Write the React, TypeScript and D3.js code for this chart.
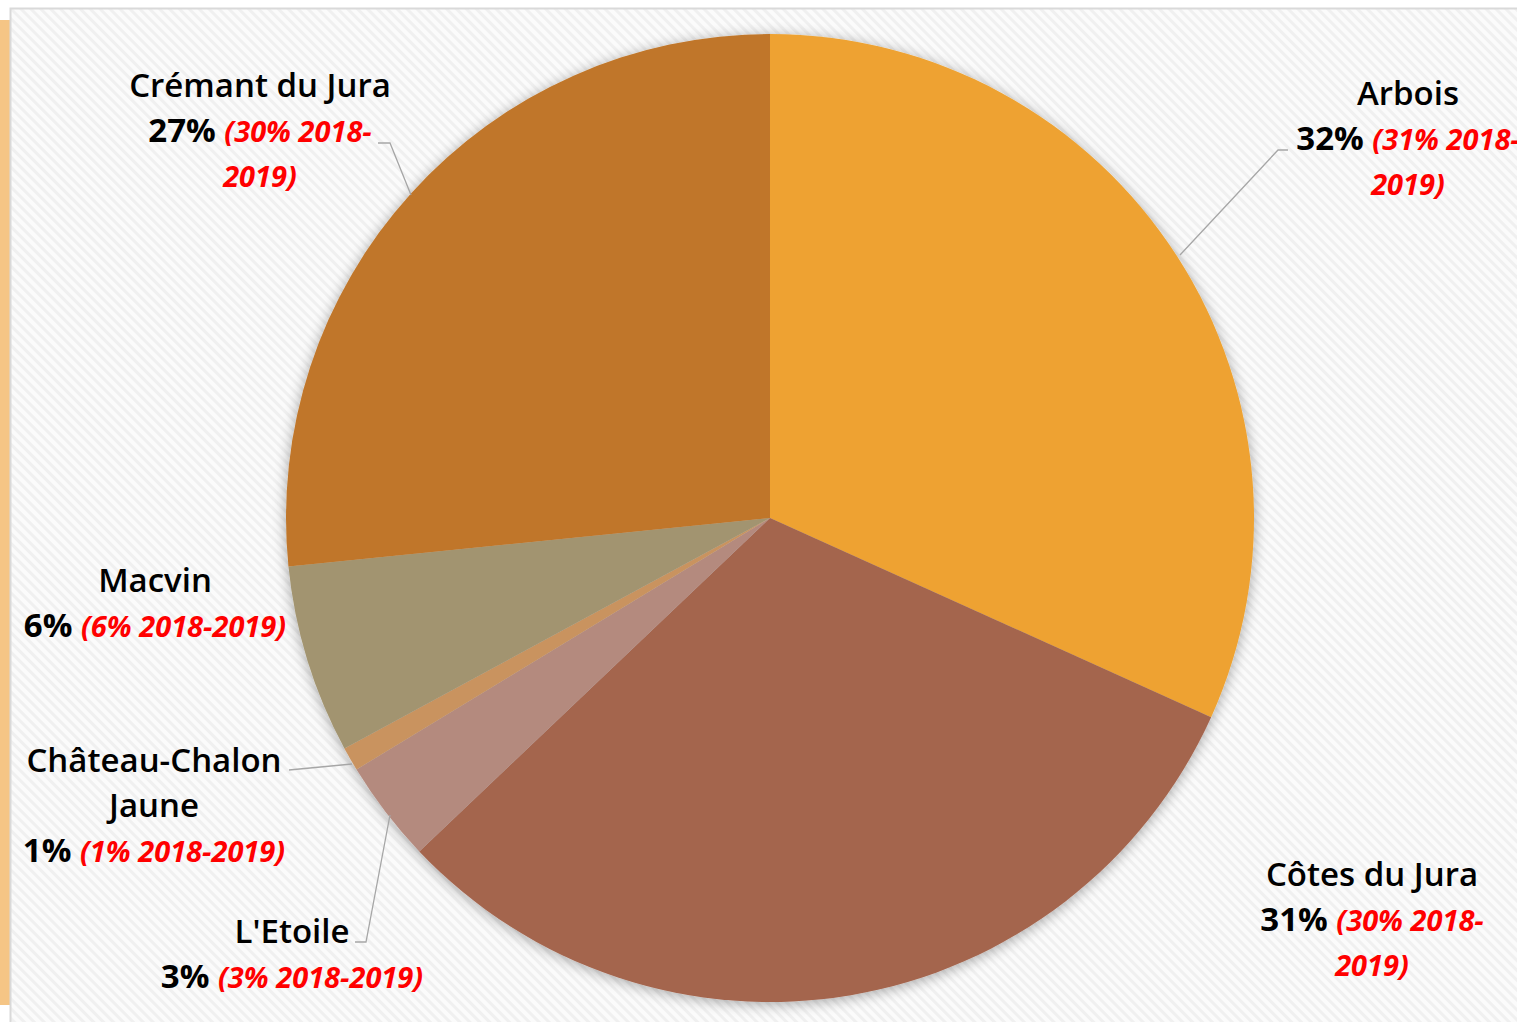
import React, { useEffect } from "react";
import * as d3 from "d3";

const categories = ["Arbois", "Côtes du Jura", "L'Etoile", "Château-Chalon Jaune", "Macvin", "Crémant du Jura"];
const shares = [31.75, 31.15, 3.4, 0.8, 6.3, 26.6];
const shareLabels = ["32%", "31%", "3%", "1%", "6%", "27%"];
const prevLabels = ["(31% 2018-2019)", "(30% 2018-2019)", "(3% 2018-2019)", "(1% 2018-2019)", "(6% 2018-2019)", "(30% 2018-2019)"];
const colors = ["#EEA230", "#A4654E", "#B48A7E", "#C9935F", "#A29470", "#C07629"];

const W = 1517;
const H = 1022;
const CX = 770;
const CY = 518;
const R = 484;
const FONT = "'Open Sans', Lato, sans-serif";

type Line = { parts: { t: string; red?: boolean; bold?: boolean }[] };
type LabelSpec = { x: number; y: number; lines: Line[]; leader?: [number, number][] };

function buildLabels(): LabelSpec[] {
  const split = (s: string) => {
    const i = s.indexOf("2019)");
    return [s.slice(0, i), s.slice(i)];
  };
  const [a1, a2] = split(prevLabels[0]);
  const [c1, c2] = split(prevLabels[1]);
  const [k1, k2] = split(prevLabels[5]);
  return [
    {
      x: 1408, y: 105,
      lines: [
        { parts: [{ t: "Arbois" }] },
        { parts: [{ t: shareLabels[0] + " ", bold: true }, { t: a1, red: true }] },
        { parts: [{ t: a2, red: true }] },
      ],
      leader: [[1288, 150], [1278, 150], [1180, 255]],
    },
    {
      x: 1372, y: 886,
      lines: [
        { parts: [{ t: "Côtes du Jura" }] },
        { parts: [{ t: shareLabels[1] + " ", bold: true }, { t: c1, red: true }] },
        { parts: [{ t: c2, red: true }] },
      ],
    },
    {
      x: 292, y: 943,
      lines: [
        { parts: [{ t: "L'Etoile" }] },
        { parts: [{ t: shareLabels[2] + " ", bold: true }, { t: prevLabels[2], red: true }] },
      ],
      leader: [[355, 942], [366, 942], [390, 815]],
    },
    {
      x: 154, y: 772,
      lines: [
        { parts: [{ t: "Château-Chalon" }] },
        { parts: [{ t: "Jaune" }] },
        { parts: [{ t: shareLabels[3] + " ", bold: true }, { t: prevLabels[3], red: true }] },
      ],
      leader: [[289, 770], [352, 764]],
    },
    {
      x: 155, y: 592,
      lines: [
        { parts: [{ t: "Macvin" }] },
        { parts: [{ t: shareLabels[4] + " ", bold: true }, { t: prevLabels[4], red: true }] },
      ],
    },
    {
      x: 260, y: 97,
      lines: [
        { parts: [{ t: "Crémant du Jura" }] },
        { parts: [{ t: shareLabels[5] + " ", bold: true }, { t: k1, red: true }] },
        { parts: [{ t: k2, red: true }] },
      ],
      leader: [[378, 143], [390, 143], [411, 195]],
    },
  ];
}

export default function App() {
  useEffect(() => {
    document.body.style.margin = "0";
  }, []);

  const pie = d3.pie<number>().sort(null).startAngle(0).endAngle(2 * Math.PI).value((d) => d);
  const arcs = pie(shares);
  const arc = d3.arc<d3.PieArcDatum<number>>().innerRadius(0).outerRadius(R);
  const labels = buildLabels();
  const lineGen = d3.line();

  return (
    <svg width={W} height={H} style={{ display: "block" }}>
      <defs>
        <pattern id="stripes" width="7" height="7" patternUnits="userSpaceOnUse" patternTransform="rotate(-45)">
          <rect width="7" height="7" fill="#fbfbfb" />
          <rect width="3" height="7" fill="#f0f0f0" />
        </pattern>
        <filter id="shadow" x="-10%" y="-10%" width="120%" height="120%">
          <feGaussianBlur in="SourceAlpha" stdDeviation="7" />
          <feOffset dx="0" dy="2" result="b" />
          <feComponentTransfer>
            <feFuncA type="linear" slope="0.35" />
          </feComponentTransfer>
          <feMerge>
            <feMergeNode />
            <feMergeNode in="SourceGraphic" />
          </feMerge>
        </filter>
      </defs>
      <rect x={0} y={0} width={W} height={H} fill="#ffffff" />
      <rect x={0} y={20} width={10} height={985} fill="#F5C585" />
      <rect x={10.5} y={8.5} width={W} height={H} fill="url(#stripes)" stroke="#d9d9d9" strokeWidth={2} />
      <g transform={`translate(${CX},${CY})`} filter="url(#shadow)">
        {arcs.map((a, i) => (
          <path key={categories[i]} d={arc(a) || ""} fill={colors[i]} />
        ))}
      </g>
      {labels.map((l, i) =>
        l.leader ? (
          <path key={"ld" + i} d={lineGen(l.leader) || ""} fill="none" stroke="#a6a6a6" strokeWidth={1.3} />
        ) : null
      )}
      {labels.map((l, i) => (
        <text key={"lb" + i} x={l.x} y={l.y} textAnchor="middle" fontFamily={FONT} fontSize={33}>
          {l.lines.map((ln, j) => (
            <tspan key={j} x={l.x} y={l.y + j * 45}>
              {ln.parts.map((p, k) => (
                <tspan
                  key={k}
                  fill={p.red ? "#FF0000" : "#000000"}
                  fontStyle={p.red ? "italic" : "normal"}
                  fontWeight={p.red || p.bold ? 700 : 600}
                  fontSize={p.red ? 29 : 33}
                >
                  {p.t}
                </tspan>
              ))}
            </tspan>
          ))}
        </text>
      ))}
    </svg>
  );
}
